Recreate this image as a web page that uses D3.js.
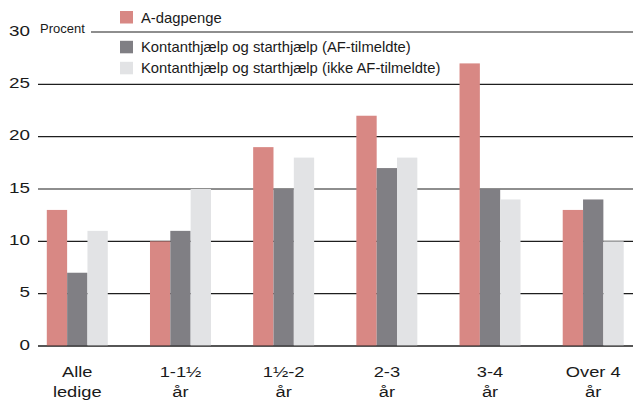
<!DOCTYPE html>
<html>
<head>
<meta charset="utf-8">
<script src="https://cdn.jsdelivr.net/npm/d3@7/dist/d3.min.js"></script>
<style>
  body { margin: 0; background: #fff; }
  text { font-family: "Liberation Sans", Arial, Helvetica, sans-serif; fill: #1a1a1a; }
</style>
</head>
<body>
<div id="chart"></div>
<script>
const categories = ['Alle ledige', '1-1½ år', '1½-2 år', '2-3 år', '3-4 år', 'Over 4 år'];
const seriesNames = [
  'A-dagpenge',
  'Kontanthjælp og starthjælp (AF-tilmeldte)',
  'Kontanthjælp og starthjælp (ikke AF-tilmeldte)'
];
const aDagpenge = [13, 10, 19, 22, 27, 13];
const afTilmeldte = [7, 11, 15, 17, 15, 14];
const ikkeAfTilmeldte = [11, 15, 18, 18, 14, 10];
const yTicks = [0, 5, 10, 15, 20, 25, 30];
const colors = ['#d88884', '#807f84', '#e2e3e5'];

const width = 633, height = 414;
const values = [aDagpenge, afTilmeldte, ikkeAfTilmeldte];

const svg = d3.select('#chart')
  .append('svg')
  .attr('width', width)
  .attr('height', height);

// scales
const x0 = d3.scaleBand()
  .domain(categories)
  .range([46.8, 623.7])
  .paddingInner(0.409)
  .paddingOuter(0);

const x1 = d3.scaleBand()
  .domain(d3.range(seriesNames.length))
  .range([0, x0.bandwidth()]);

const y = d3.scaleLinear()
  .domain([0, 30])
  .range([346, 32]);

// grid lines (top one starts after the "Procent" label)
svg.append('g')
  .selectAll('line')
  .data(yTicks)
  .join('line')
  .attr('x1', d => d === 30 ? 91 : 38)
  .attr('x2', width)
  .attr('y1', d => y(d))
  .attr('y2', d => y(d))
  .attr('stroke', '#1e1e1e')
  .attr('stroke-width', 1.2);

// tick labels
svg.append('g')
  .selectAll('text')
  .data(yTicks)
  .join('text')
  .attr('transform', d => `translate(30,${y(d) + 3.5}) scale(1.3,1)`)
  .attr('text-anchor', 'end')
  .style('font-size', '14.5px')
  .text(d => d);

svg.append('text')
  .attr('x', 40)
  .attr('y', 33)
  .style('font-size', '13px')
  .text('Procent');

// bars
const groups = svg.append('g')
  .selectAll('g')
  .data(categories)
  .join('g')
  .attr('transform', d => `translate(${x0(d)},0)`);

groups.selectAll('rect')
  .data((d, i) => values.map((s, k) => ({ k, v: s[i] })))
  .join('rect')
  .attr('x', d => x1(d.k))
  .attr('width', x1.bandwidth())
  .attr('y', d => y(d.v))
  .attr('height', d => y(0) - y(d.v))
  .attr('fill', d => colors[d.k]);

// zero line on top of bars
svg.append('line')
  .attr('x1', 38).attr('x2', width)
  .attr('y1', y(0)).attr('y2', y(0))
  .attr('stroke', '#1e1e1e')
  .attr('stroke-width', 1.2);

// category labels, two lines each
const labels = svg.append('g')
  .selectAll('g')
  .data(categories)
  .join('g')
  .attr('transform', d => `translate(${x0(d) + x0.bandwidth() / 2},0)`);

labels.each(function (d) {
  const cut = d.lastIndexOf(' ');
  const lines = [d.slice(0, cut), d.slice(cut + 1)];
  d3.select(this).selectAll('text')
    .data(lines)
    .join('text')
    .attr('transform', (t, i) => `translate(0,${377.3 + i * 19.5}) scale(1.22,1)`)
    .attr('text-anchor', 'middle')
    .style('font-size', '15px')
    .text(t => t);
});

// legend
const legendY = [22.5, 52.3, 73.3];
const legend = svg.append('g')
  .selectAll('g')
  .data(seriesNames)
  .join('g')
  .attr('transform', (d, i) => `translate(120,${legendY[i]})`);

legend.append('rect')
  .attr('x', 0)
  .attr('y', -11.5)
  .attr('width', 13)
  .attr('height', 12.5)
  .attr('fill', (d, i) => colors[i]);

legend.append('text')
  .attr('x', 21)
  .attr('y', 0)
  .style('font-size', '14.8px')
  .text(d => d);
</script>
</body>
</html>
